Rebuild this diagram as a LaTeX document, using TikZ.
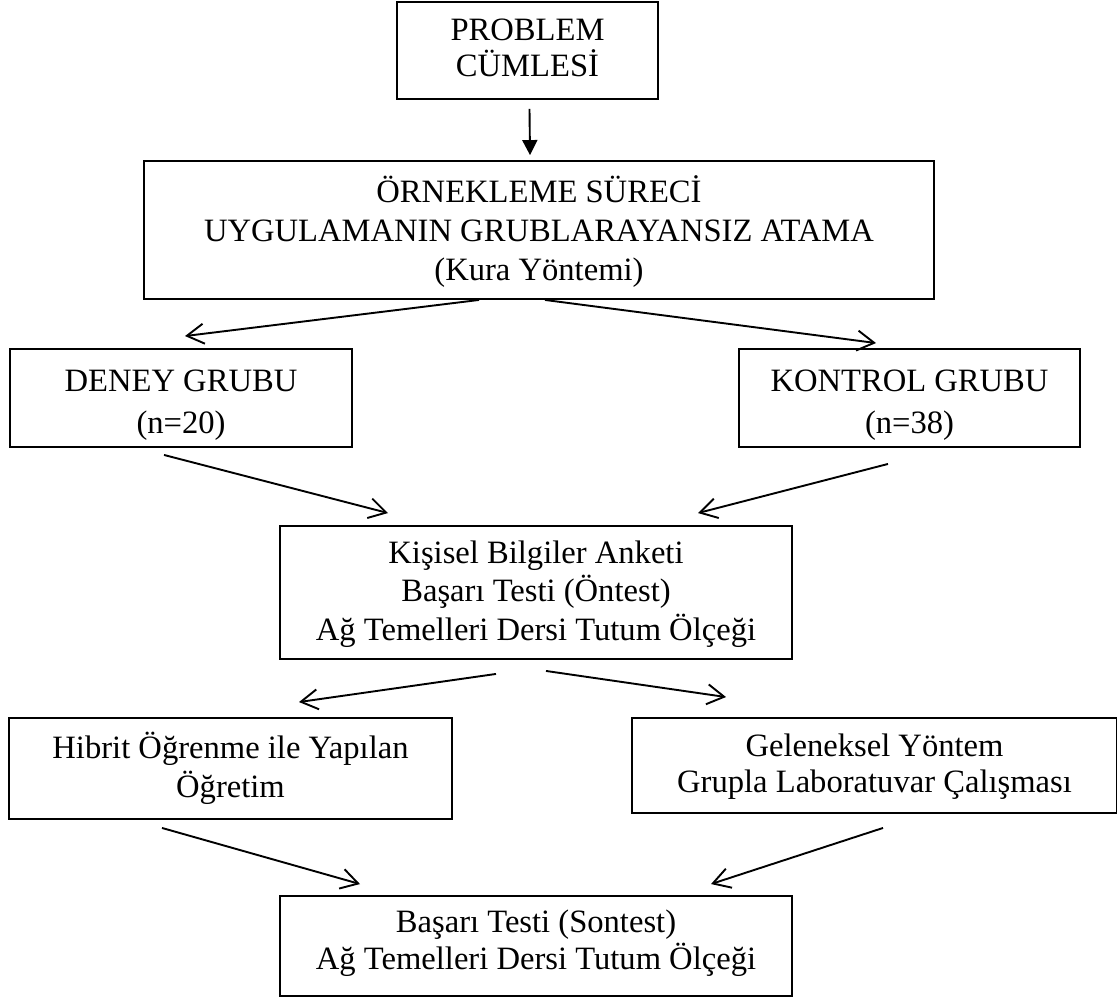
\documentclass[tikz,border=0pt]{standalone}
\usepackage{fontspec}
\setmainfont{Liberation Serif}
\usetikzlibrary{calc}
\usetikzlibrary{arrows.meta}
\newcommand*{\lw}{1.9pt}
\newcommand*{\fsz}{32.6}

\begin{document}
\begin{tikzpicture}[x=1pt, y=-1pt,
    box/.style={draw, line width=\lw, align=center, inner sep=0pt,
                font=\fontsize{\fsz}{38}\selectfont},
    bl/.style={text depth=10pt, text height={10+2*(#1)}},
    lsp/.style={font=\fontsize{\fsz}{#1}\selectfont},
    openarrow/.style={line width=\lw, -{Straight Barb[length=17pt, width=20pt, line width=\lw]}},
    fillarrow/.style={line width=\lw, -{Triangle[length=15pt, width=15pt]}}]
    \useasboundingbox (0,0) rectangle (1117,998);
        % boxes
        \node [box, lsp=36, bl=26.2, minimum width=261, minimum height=97] (prob) at (527.5, 50.5) {PROBLEM\\CÜMLESİ};
        \node [box, lsp=39, bl=50, minimum width=790, minimum height=138] (samp) at (539, 230) {ÖRNEKLEME SÜRECİ\\UYGULAMANIN GRUBLARAYANSIZ ATAMA\\(Kura Yöntemi)};
        \node [box, lsp=42, bl=35, minimum width=342, minimum height=98] (deney) at (181, 398) {DENEY GRUBU\\(n=20)};
        \node [box, lsp=42, bl=35, minimum width=341, minimum height=98] (kontrol) at (909.5, 398) {KONTROL GRUBU\\(n=38)};
        \node [box, lsp=38.3, bl=47.5, minimum width=512, minimum height=133] (pre) at (536, 592.5) {Kişisel Bilgiler Anketi\\Başarı Testi (Öntest)\\Ağ Temelleri Dersi Tutum Ölçeği};
        \node [box, lsp=39.4, bl=29.2, minimum width=443, minimum height=101] (hibrit) at (230.5, 768.5) {Hibrit Öğrenme ile Yapılan\\Öğretim};
        \node [box, lsp=36, bl=27.2, minimum width=485, minimum height=95] (gelen) at (874.5, 765.5) {Geleneksel Yöntem\\Grupla Laboratuvar Çalışması};
        \node [box, lsp=36.7, bl=23, minimum width=512, minimum height=100] (post) at (536, 946) {Başarı Testi (Sontest)\\Ağ Temelleri Dersi Tutum Ölçeği};
        % arrows
        \draw [fillarrow] ($(prob.south)+(2,9)$) -- ($(samp.north)+(-9,-5)$);
        \draw [openarrow] ($(samp.south)+(-60,0)$) -- ($(deney.north)+(4,-12)$);
        \draw [openarrow] ($(samp.south)+(6,0)$) -- ($(kontrol.north)+(-33.5,-5)$);
        \draw [openarrow] ($(deney.south)+(-17,7)$) -- ($(pre.north)+(-148,-12)$);
        \draw [openarrow] ($(kontrol.south)+(-21.5,16)$) -- ($(pre.north)+(162,-12)$);
        \draw [openarrow] ($(pre.south)+(-40,14)$) -- ($(hibrit.north)+(68.5,-15)$);
        \draw [openarrow] ($(pre.south)+(10,11)$) -- ($(gelen.north)+(-148.5,-20)$);
        \draw [openarrow] ($(hibrit.south)+(-68.5,8)$) -- ($(post.north)+(-176,-11)$);
        \draw [openarrow] ($(gelen.south)+(8.5,14)$) -- ($(post.north)+(175,-11)$);
    \end{tikzpicture}
\end{document}
